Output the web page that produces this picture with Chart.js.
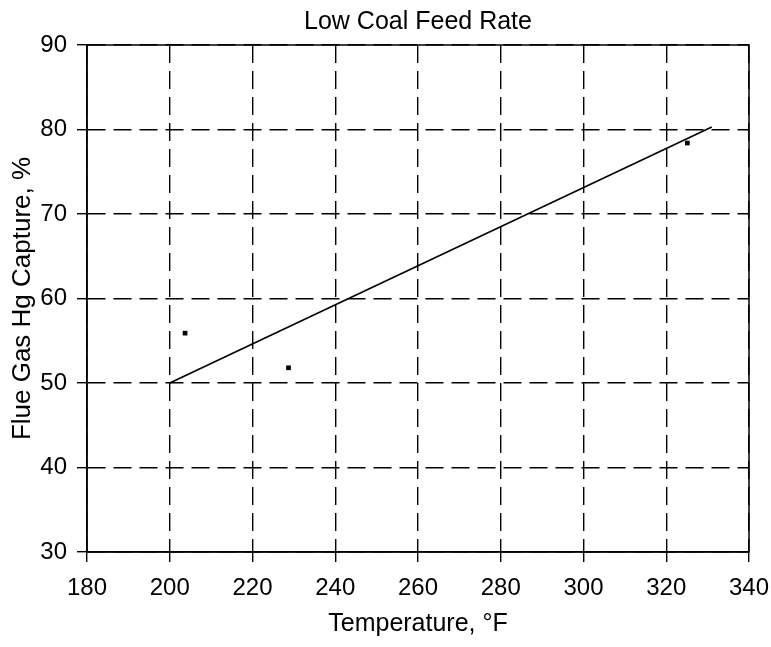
<!DOCTYPE html>
<html>
<head>
<meta charset="utf-8">
<script src="https://cdn.jsdelivr.net/npm/chart.js@4/dist/chart.umd.min.js"></script>
<style>
  html, body { margin: 0; padding: 0; background: #fff; }
  #wrap { width: 771px; height: 647px; position: relative; }
</style>
</head>
<body>
<div id="wrap"><canvas id="c" width="771" height="647"></canvas></div>
<script>
// ---- data ----
const chartTitle = "Low Coal Feed Rate";
const xAxisTitle = "Temperature, \u00B0F";
const yAxisTitle = "Flue Gas Hg Capture, %";
const xTicks = [180, 200, 220, 240, 260, 280, 300, 320, 340];
const yTicks = [30, 40, 50, 60, 70, 80, 90];
const obsTemp = [203.7, 228.7, 325.1];
const obsCapture = [55.9, 51.8, 78.4];
const fitTemp = [200, 331];
const fitCapture = [50, 80.3];

const FONT = "'Liberation Sans', Arial, Helvetica, sans-serif";

// solid frame around the plot area + title centred over the plot area
const frame = {
  id: 'frame',
  afterDatasetsDraw(chart) {
    const a = chart.chartArea, ctx = chart.ctx;
    ctx.save();
    ctx.setLineDash([]);
    ctx.strokeStyle = '#000';
    ctx.lineWidth = 1.5;
    ctx.strokeRect(a.left, a.top, a.right - a.left, a.bottom - a.top);
    const tb = chart.titleBlock;
    ctx.fillStyle = '#000';
    ctx.font = '25px ' + FONT;
    ctx.textAlign = 'center';
    ctx.textBaseline = 'middle';
    ctx.fillText(chartTitle, (a.left + a.right) / 2, tb.top + 5 + 15 + 2);
    ctx.restore();
  }
};

new Chart(document.getElementById('c'), {
  type: 'scatter',
  data: {
    datasets: [
      {
        label: 'Fit',
        data: fitTemp.map((x, i) => ({ x: x, y: fitCapture[i] })),
        showLine: true,
        borderColor: '#000',
        borderWidth: 1.6,
        pointRadius: 0,
        fill: false
      },
      {
        label: 'Measured',
        data: obsTemp.map((x, i) => ({ x: x, y: obsCapture[i] })),
        showLine: false,
        pointStyle: 'rect',
        pointRadius: 3.3,
        backgroundColor: '#000',
        borderColor: '#000',
        borderWidth: 0
      }
    ]
  },
  options: {
    responsive: false,
    animation: false,
    layout: { padding: { left: 7, right: 0, top: 0, bottom: 8 } },
    plugins: {
      legend: { display: false },
      tooltip: { enabled: false },
      title: {
        display: true,
        text: chartTitle,
        color: 'rgba(0,0,0,0)',
        font: { family: FONT, size: 25, weight: 'normal' },
        padding: { top: 5, bottom: 10 }
      }
    },
    scales: {
      x: {
        type: 'linear',
        min: xTicks[0],
        max: xTicks[xTicks.length - 1],
        afterBuildTicks: (s) => { s.ticks = xTicks.map(v => ({ value: v })); },
        afterFit: (s) => { s.height = 87; s.paddingRight = 22; s.paddingLeft = 0; },
        ticks: {
          color: '#000',
          font: { family: FONT, size: 24 },
          padding: 12,
          maxRotation: 0
        },
        grid: {
          color: '#000',
          lineWidth: 1.4,
          drawTicks: true,
          tickLength: 10,
          tickColor: '#000',
          tickWidth: 1.4
        },
        border: { display: true, color: '#000', width: 1.5, dash: [18, 8] },
        title: {
          display: true,
          text: xAxisTitle,
          color: '#000',
          font: { family: FONT, size: 25 },
          padding: { top: 9, bottom: 0 }
        }
      },
      y: {
        type: 'linear',
        min: yTicks[0],
        max: yTicks[yTicks.length - 1],
        afterBuildTicks: (s) => { s.ticks = yTicks.map(v => ({ value: v })); },
        afterFit: (s) => { s.width = 80; },
        ticks: {
          color: '#000',
          font: { family: FONT, size: 24 },
          padding: 10
        },
        grid: {
          color: '#000',
          lineWidth: 1.4,
          drawTicks: true,
          tickLength: 10,
          tickColor: '#000',
          tickWidth: 1.4
        },
        border: { display: true, color: '#000', width: 1.5, dash: [18, 8] },
        title: {
          display: true,
          text: yAxisTitle,
          color: '#000',
          font: { family: FONT, size: 26 },
          padding: { top: 0, bottom: 2 }
        }
      }
    }
  },
  plugins: [frame]
});
</script>
</body>
</html>
